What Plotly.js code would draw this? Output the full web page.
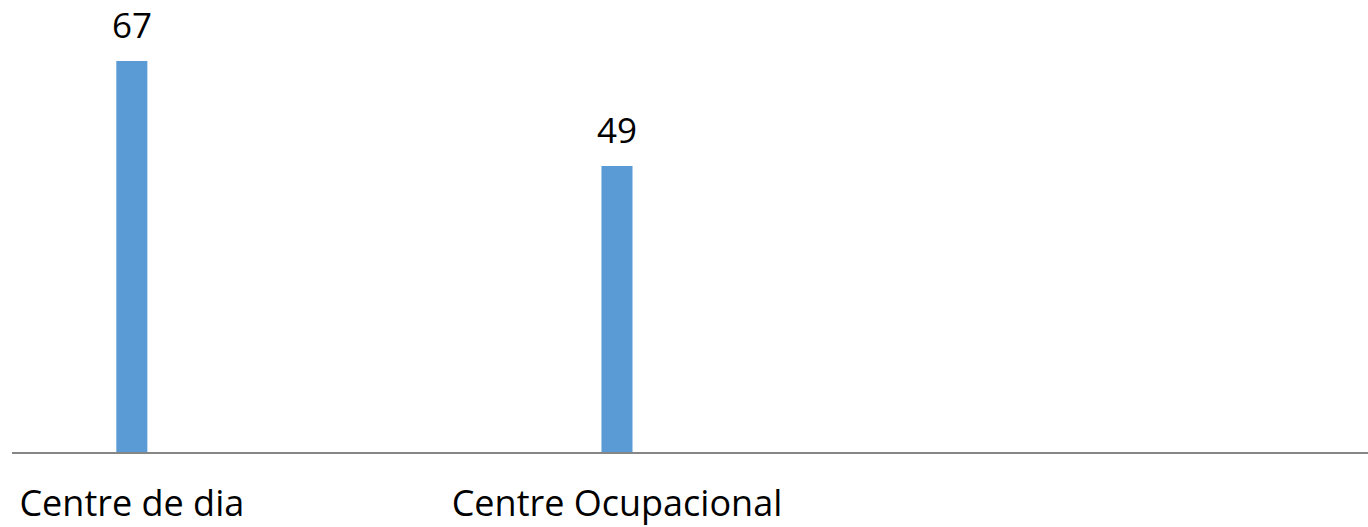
<!DOCTYPE html>
<html>
<head>
<meta charset="utf-8">
<script src="https://cdn.plot.ly/plotly-3.0.1.min.js"></script>
<style>html,body{margin:0;padding:0;background:#fff;}#chart{width:1368px;height:527px;}</style>
</head>
<body>
<div id="chart"></div>
<script>
const categories = ["Centre de dia", "Centre Ocupacional"];
const values = [67, 49];
const labels = values.map(String);

const trace = {
  type: "bar",
  x: categories,
  y: values,
  width: 0.064,
  marker: {color: "#5B9BD5"},
  hoverinfo: "skip"
};

const annotations = categories.map((c, i) => ({
  x: c, y: values[i], xref: "x", yref: "y",
  text: labels[i], showarrow: false,
  yanchor: "bottom", yshift: 11,
  font: {family: "Open Sans, sans-serif", size: 35, color: "#000"}
}));

const layout = {
  width: 1368, height: 527,
  margin: {l: 12, r: 0, t: 0, b: 75},
  paper_bgcolor: "#fff", plot_bgcolor: "#fff",
  showlegend: false,
  xaxis: {
    type: "category",
    range: [-0.247, 2.548],
    showline: true, linecolor: "#868686", linewidth: 2,
    showgrid: false, zeroline: false, ticks: "",
    tickfont: {family: "Open Sans, sans-serif", size: 36, color: "#000"},
    ticklabelstandoff: 19
  },
  yaxis: {
    range: [0, 77.45],
    visible: false, showgrid: false, zeroline: false
  },
  annotations: annotations
};

Plotly.newPlot("chart", [trace], layout, {staticPlot: true, displayModeBar: false});
</script>
</body>
</html>
